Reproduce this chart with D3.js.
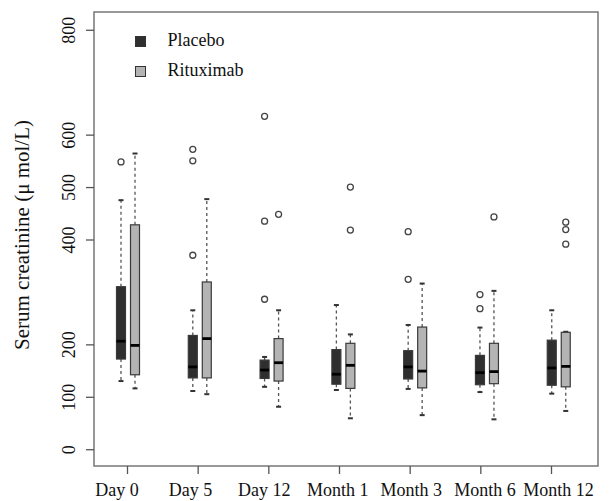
<!DOCTYPE html>
<html>
<head>
<meta charset="utf-8">
<script src="https://cdn.jsdelivr.net/npm/d3@7"></script>
<style>
  body { margin: 0; background: #fff; }
  text { font-family: "Liberation Serif", "DejaVu Serif", serif; fill: #111; }
</style>
</head>
<body>
<div id="chart"></div>
<script>
// Time points and axis ticks
var categories = ["Day 0", "Day 5", "Day 12", "Month 1", "Month 3", "Month 6", "Month 12"];
var yTicks = [0, 100, 200, 400, 500, 600, 800];
var groups = ["Placebo", "Rituximab"];

// Box stats per time point: [lower whisker, q1, median, q3, upper whisker]
var placeboStats = [
    [130, 172, 206, 310, 475],
    [111, 136, 157, 217, 265],
    [119, 135, 151, 170, 176],
    [113, 124, 143, 190, 275],
    [115, 134, 157, 188, 237],
    [109, 123, 146, 179, 232],
    [106, 122, 155, 208, 265]
];
var placeboOutliers = [[548], [572, 550, 370], [635, 435, 286], [], [415, 324], [295, 268], []];

var rituximabStats = [
    [116, 142, 198, 428, 564],
    [105, 136, 211, 319, 477],
    [81, 130, 165, 211, 265],
    [59, 116, 160, 202, 219],
    [65, 117, 149, 233, 316],
    [57, 125, 148, 202, 302],
    [73, 119, 158, 223, 224]
];
var rituximabOutliers = [[], [], [448], [500, 418], [], [443], [433, 419, 391]];

var width = 611, height = 501;
var frame = {left: 94, right: 598, top: 12, bottom: 466};

var svg = d3.select("#chart").append("svg")
    .attr("width", width)
    .attr("height", height);

// Scales
var y = d3.scaleLinear().domain([-32, 832]).range([frame.bottom, frame.top + 1]);
var xTick = d3.scalePoint().domain(categories).range([127, 551]);
var xBox = d3.scalePoint().domain(categories).range([128, 558.75]);
var xLabel = d3.scalePoint().domain(categories).range([116.5, 558]);
var offset = d3.scaleOrdinal().domain(groups).range([-7, 7]);
var fill = d3.scaleOrdinal().domain(groups).range(["#2f2f2f", "#b4b4b4"]);
var boxW = 9;

// Flatten into one list of boxes
var boxes = [];
categories.forEach(function(c, i) {
    boxes.push({cat: c, group: "Placebo", s: placeboStats[i], out: placeboOutliers[i]});
    boxes.push({cat: c, group: "Rituximab", s: rituximabStats[i], out: rituximabOutliers[i]});
});
function cx(d) { return xBox(d.cat) + offset(d.group); }

// Plot frame
svg.append("rect")
    .attr("x", frame.left)
    .attr("y", frame.top)
    .attr("width", frame.right - frame.left)
    .attr("height", frame.bottom - frame.top)
    .attr("fill", "none")
    .attr("stroke", "#777")
    .attr("stroke-width", 1.5);

// Y axis with rotated labels
var yAxis = svg.append("g")
    .attr("transform", "translate(" + frame.left + ",0)")
    .call(d3.axisLeft(y).tickValues(yTicks).tickSize(8).tickFormat(d3.format("d")));
yAxis.select(".domain").remove();
yAxis.selectAll("line").attr("stroke", "#555").attr("stroke-width", 1.3);
yAxis.selectAll("text")
    .attr("transform", "rotate(-90)")
    .attr("x", 0)
    .attr("y", -19)
    .attr("dy", 0)
    .attr("text-anchor", "middle")
    .style("font-family", "Liberation Serif")
    .style("font-size", "18px")
    .attr("fill", "#111");

// X axis
var xAxis = svg.append("g")
    .attr("transform", "translate(0," + frame.bottom + ")")
    .call(d3.axisBottom(xTick).tickSize(8));
xAxis.select(".domain").remove();
xAxis.selectAll("line").attr("stroke", "#555").attr("stroke-width", 1.3);
xAxis.selectAll("text")
    .attr("x", function(d) { return xLabel(d) - xTick(d); })
    .attr("y", 30)
    .attr("dy", 0)
    .style("font-family", "Liberation Serif")
    .style("font-size", "18px")
    .attr("fill", "#111");

// Y axis title
svg.append("text")
    .attr("transform", "translate(29," + ((frame.top + frame.bottom) / 2 - 4) + ") rotate(-90)")
    .attr("text-anchor", "middle")
    .style("font-size", "21px")
    .text("Serum creatinine (\u03bc mol/L)");

// Whiskers (dashed)
var g = svg.append("g");
g.selectAll(".whisk-up").data(boxes).enter().append("line")
    .attr("x1", cx).attr("x2", cx)
    .attr("y1", function(d) { return y(d.s[3]); })
    .attr("y2", function(d) { return y(d.s[4]); })
    .attr("stroke", "#555").attr("stroke-width", 1.3).attr("stroke-dasharray", "3,3");
g.selectAll(".whisk-lo").data(boxes).enter().append("line")
    .attr("x1", cx).attr("x2", cx)
    .attr("y1", function(d) { return y(d.s[1]); })
    .attr("y2", function(d) { return y(d.s[0]); })
    .attr("stroke", "#555").attr("stroke-width", 1.3).attr("stroke-dasharray", "3,3");

// Staples
[0, 4].forEach(function(k) {
    g.selectAll(".staple" + k).data(boxes).enter().append("line")
        .attr("x1", function(d) { return cx(d) - 2.5; })
        .attr("x2", function(d) { return cx(d) + 2.5; })
        .attr("y1", function(d) { return y(d.s[k]); })
        .attr("y2", function(d) { return y(d.s[k]); })
        .attr("stroke", "#333").attr("stroke-width", 2);
});

// Boxes
g.selectAll(".box").data(boxes).enter().append("rect")
    .attr("x", function(d) { return cx(d) - boxW / 2; })
    .attr("y", function(d) { return y(d.s[3]); })
    .attr("width", boxW)
    .attr("height", function(d) { return y(d.s[1]) - y(d.s[3]); })
    .attr("fill", function(d) { return fill(d.group); })
    .attr("stroke", "#3a3a3a")
    .attr("stroke-width", 1.2);

// Medians
g.selectAll(".median").data(boxes).enter().append("line")
    .attr("x1", function(d) { return cx(d) - boxW / 2; })
    .attr("x2", function(d) { return cx(d) + boxW / 2; })
    .attr("y1", function(d) { return y(d.s[2]); })
    .attr("y2", function(d) { return y(d.s[2]); })
    .attr("stroke", "#000").attr("stroke-width", 2.8);

// Outliers
var outPts = [];
boxes.forEach(function(b) {
    b.out.forEach(function(v) { outPts.push({cat: b.cat, group: b.group, v: v}); });
});
g.selectAll(".out").data(outPts).enter().append("circle")
    .attr("cx", cx)
    .attr("cy", function(d) { return y(d.v); })
    .attr("r", 3)
    .attr("fill", "none")
    .attr("stroke", "#444")
    .attr("stroke-width", 1.3);

// Legend
var legend = svg.selectAll(".legend").data(groups).enter().append("g")
    .attr("transform", function(d, i) { return "translate(135.5," + (36.5 + i * 30) + ")"; });
legend.append("rect")
    .attr("width", 10).attr("height", 10)
    .attr("fill", function(d) { return fill(d); })
    .attr("stroke", "#333").attr("stroke-width", 1);
legend.append("text")
    .attr("x", 32)
    .attr("y", 9.5)
    .style("font-size", "18px")
    .text(function(d) { return d; });
</script>
</body>
</html>
